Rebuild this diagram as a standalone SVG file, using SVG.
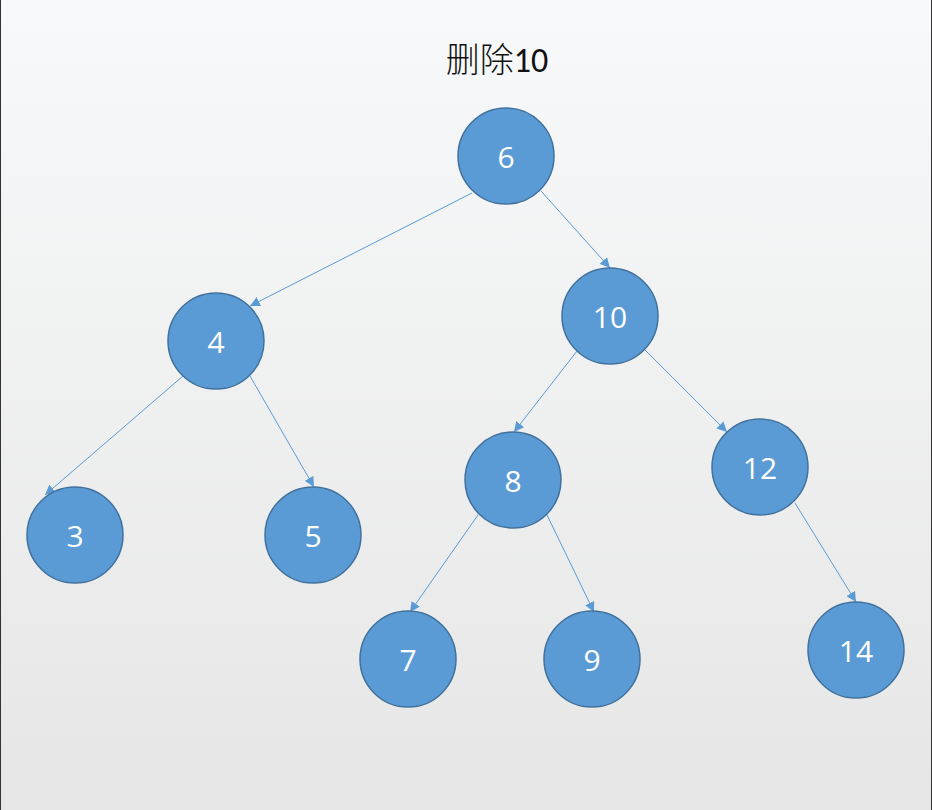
<svg xmlns="http://www.w3.org/2000/svg" width="932" height="810" viewBox="0 0 932 810">
<defs>
<linearGradient id="bg" x1="0" y1="0" x2="0" y2="1">
<stop offset="0" stop-color="#f8f9fa"/>
<stop offset="1" stop-color="#e6e6e6"/>
</linearGradient>
<marker id="ar" viewBox="0 0 10 10" refX="10" refY="5" markerWidth="10" markerHeight="10" markerUnits="userSpaceOnUse" orient="auto">
<path d="M0,0 L10,5 L0,10 z" fill="#5b9bd5"/>
</marker>
<style>
.n circle{fill:#5b9bd5;stroke:#41719c;stroke-width:1.5}
.n text{fill:#ffffff;font-family:"Open Sans","Noto Sans",sans-serif;font-size:30px;text-anchor:middle;dominant-baseline:central}
#edges line{stroke:#5b9bd5;stroke-width:1;marker-end:url(#ar)}
</style>
</defs>
<rect x="0" y="0" width="932" height="810" fill="url(#bg)"/>
<line x1="0.5" y1="0" x2="0.5" y2="810" stroke="#333" stroke-width="1"/>
<line x1="931.5" y1="0" x2="931.5" y2="810" stroke="#333" stroke-width="1"/>
<text x="497" y="72" font-family="Calibri,'Open Sans','Noto Sans CJK SC',sans-serif" font-size="34" fill="#111" text-anchor="middle"><tspan font-family="'Noto Sans CJK SC',sans-serif" font-weight="300">删除</tspan>10</text>
<g id="edges">
<line x1="472" y1="193" x2="250" y2="306"/>
<line x1="541" y1="191" x2="610" y2="268"/>
<line x1="183" y1="376" x2="45" y2="495"/>
<line x1="250" y1="376" x2="314" y2="487"/>
<line x1="577" y1="351" x2="514" y2="432"/>
<line x1="645" y1="350" x2="727" y2="432"/>
<line x1="478" y1="515" x2="410" y2="612"/>
<line x1="547" y1="515" x2="594" y2="612"/>
<line x1="795" y1="503" x2="856" y2="602"/>
</g>
<g id="n6" class="n"><circle cx="506" cy="156" r="48"/><text x="506" y="156">6</text></g>
<g id="n4" class="n"><circle cx="216" cy="341" r="48"/><text x="216" y="341">4</text></g>
<g id="n10" class="n"><circle cx="610" cy="316" r="48"/><text x="610" y="316">10</text></g>
<g id="n3" class="n"><circle cx="75" cy="535" r="48"/><text x="75" y="535">3</text></g>
<g id="n5" class="n"><circle cx="313" cy="535" r="48"/><text x="313" y="535">5</text></g>
<g id="n8" class="n"><circle cx="513" cy="480" r="48"/><text x="513" y="480">8</text></g>
<g id="n12" class="n"><circle cx="760" cy="467" r="48"/><text x="760" y="467">12</text></g>
<g id="n7" class="n"><circle cx="408" cy="659" r="48"/><text x="408" y="659">7</text></g>
<g id="n9" class="n"><circle cx="592" cy="659" r="48"/><text x="592" y="659">9</text></g>
<g id="n14" class="n"><circle cx="856" cy="650" r="48"/><text x="856" y="650">14</text></g>
</svg>
